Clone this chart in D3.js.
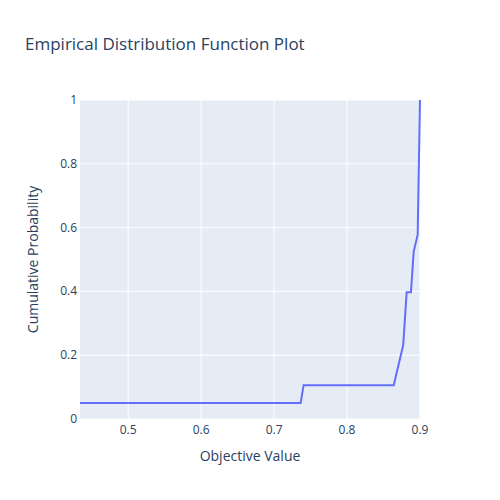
<!DOCTYPE html>
<html><head><meta charset="utf-8">
<script src="https://cdn.jsdelivr.net/npm/d3@7"></script>
<style>body{margin:0}text{font-family:"Open Sans",Arial,sans-serif}</style>
</head><body><svg id="plot" width="500" height="500"></svg>
<script>
const xs = [0.434, 0.7364, 0.7405, 0.864, 0.877, 0.8817, 0.8876, 0.8913, 0.8968, 0.9];
const ys = [0.05, 0.05, 0.106, 0.106, 0.232, 0.397, 0.397, 0.524, 0.577, 1];
const xTicks = [0.5, 0.6, 0.7, 0.8, 0.9];
const yTicks = [0, 0.2, 0.4, 0.6, 0.8, 1];

const svg = d3.select("#plot");
const m = {l: 80, r: 80, t: 100, b: 81};
const w = 500 - m.l - m.r, h = 500 - m.t - m.b;
const x = d3.scaleLinear().domain([0.434, 0.9]).range([0, w]);
const y = d3.scaleLinear().domain([0, 1]).range([h, 0]);

svg.append("rect").attr("width", 500).attr("height", 500).attr("fill", "#fff");
const g = svg.append("g").attr("transform", `translate(${m.l},${m.t})`);
g.append("rect").attr("width", w).attr("height", h).attr("fill", "#e5ecf6");

g.selectAll(".gx").data(xTicks).enter().append("line")
  .attr("x1", d => x(d)).attr("x2", d => x(d)).attr("y1", 0).attr("y2", h)
  .attr("stroke", "#fff").attr("stroke-width", 1);
g.selectAll(".gy").data(yTicks).enter().append("line")
  .attr("y1", d => y(d)).attr("y2", d => y(d)).attr("x1", 0).attr("x2", w)
  .attr("stroke", "#fff").attr("stroke-width", 1);

g.selectAll(".tx").data(xTicks).enter().append("text")
  .attr("x", d => x(d)).attr("y", h + 15).attr("text-anchor", "middle")
  .attr("font-size", 12).attr("fill", "#2a3f5f").text(d => d);
g.selectAll(".ty").data(yTicks).enter().append("text")
  .attr("x", -3).attr("y", d => y(d) + 4).attr("text-anchor", "end")
  .attr("font-size", 12).attr("fill", "#2a3f5f").text(d => d);

const line = d3.line().x((d, i) => x(xs[i])).y((d, i) => y(ys[i]));
g.append("path").datum(xs).attr("d", line).attr("fill", "none")
  .attr("stroke", "#636efa").attr("stroke-width", 2);

svg.append("text").attr("x", 25).attr("y", 50).attr("font-size", 17)
  .attr("fill", "#2a3f5f").text("Empirical Distribution Function Plot");
svg.append("text").attr("x", m.l + w / 2).attr("y", 461).attr("text-anchor", "middle")
  .attr("font-size", 14).attr("fill", "#2a3f5f").text("Objective Value");
svg.append("text").attr("transform", `translate(38,${m.t + h / 2}) rotate(-90)`)
  .attr("text-anchor", "middle").attr("font-size", 14).attr("fill", "#2a3f5f")
  .text("Cumulative Probability");
</script></body></html>
